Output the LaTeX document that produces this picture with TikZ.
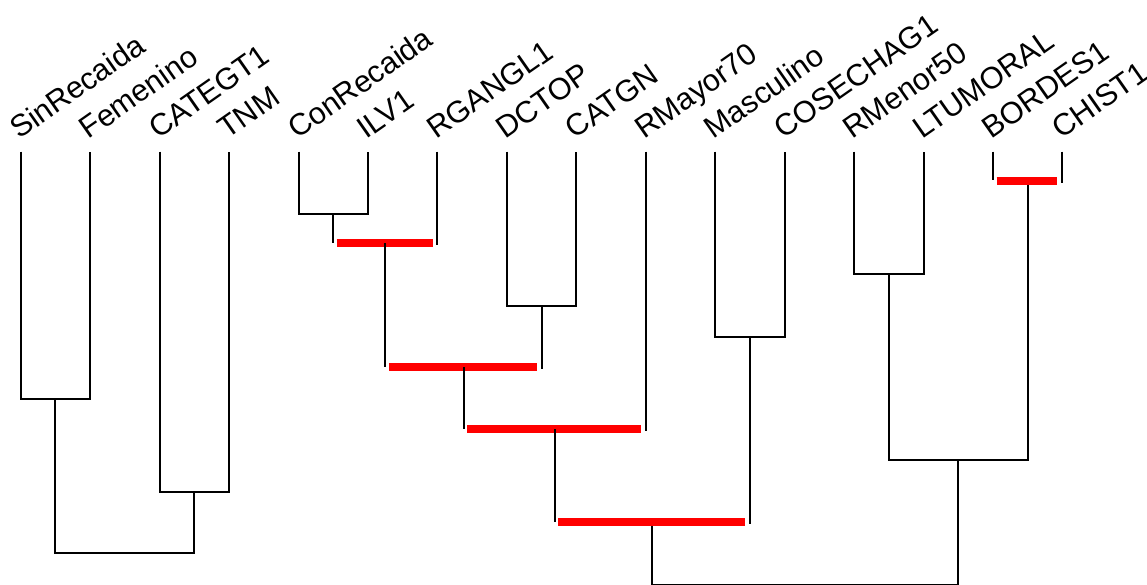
\documentclass[tikz,border=0pt]{standalone}
\usepackage{fontspec}
\setmainfont{Liberation Sans}
\usetikzlibrary{calc}
\definecolor{barred}{RGB}{255,0,0}
\tikzset{
  lab/.style={anchor=base west,rotate=35,inner sep=0pt,font=\fontsize{30.5}{32}\selectfont},
  tree/.style={draw=black,line width=2pt,line cap=butt},
  redbar/.style={draw=barred,line width=8pt,line cap=butt},
}
\begin{document}
\begin{tikzpicture}[x=1pt,y=-1pt]
\useasboundingbox (0,0) rectangle (1147,584);
% leaf tops
\foreach \n/\i in {l0/0,l1/1,l2/2,l3/3,l4/4,l5/5,l6/6,l7/7,l8/8,l9/9,l10/10,l11/11,l12/12,l13/13,l14/14,l15/15}
  \coordinate (\n) at ({20.7+69.45*\i},151.5);
% labels
\foreach \t/\i in {SinRecaida/0,Femenino/1,CATEGT1/2,TNM/3,ConRecaida/4,ILV1/5,RGANGL1/6,DCTOP/7,CATGN/8,RMayor70/9,Masculino/10,COSECHAG1/11,RMenor50/12,LTUMORAL/13,BORDES1/14,CHIST1/15}
  \node[lab] (t\i) at ({20.7+69.45*\i-1.5},140) {\t};
% merge points
\coordinate (m1) at (55.4,399);
\coordinate (m2) at (194.3,492);
\coordinate (m3) at (124.9,553);
\coordinate (m4) at (333.2,213.5);
\coordinate (m5) at (541.6,306);
\coordinate (m6) at (749.9,336.7);
\coordinate (m7) at (888.8,274.3);
\coordinate (r1) at (385.3,243);
\coordinate (r2) at (463.5,367);
\coordinate (r3) at (554.6,429);
\coordinate (r4) at (652.3,522);
\coordinate (r5) at (1027.7,181);
\coordinate (m8) at (958.3,460);
\coordinate (m9) at (805,585);
% black merges
\draw[tree] (l0) |- (m1) -| (l1);
\draw[tree] (l2) |- (m2) -| (l3);
\draw[tree] (m1) |- (m3) -| (m2);
\draw[tree] (l4) |- (m4) -| (l5);
\draw[tree] (l7) |- (m5) -| (l8);
\draw[tree] (l10) |- (m6) -| (l11);
\draw[tree] (l12) |- (m7) -| (l13);
\draw[tree] (m7) |- (m8) -| (r5);
\draw[tree] (r4) |- (m9) -| (m8);
% red merges
\draw[tree] (m4) -- (m4 |- r1);
\draw[tree] (l6) -- ($(l6 |- r1)+(0,2)$);
\draw[redbar] ($(m4 |- r1)+(3.5,0)$) -- ($(l6 |- r1)+(-4.5,0)$);
\draw[tree] (r1) -- (r1 |- r2);
\draw[tree] (m5) -- ($(m5 |- r2)+(0,1.5)$);
\draw[redbar] ($(r1 |- r2)+(3.5,0)$) -- ($(m5 |- r2)+(-4.5,0)$);
\draw[tree] (r2) -- (r2 |- r3);
\draw[tree] (l9) -- ($(l9 |- r3)+(0,1.5)$);
\draw[redbar] ($(r2 |- r3)+(3.5,0)$) -- ($(l9 |- r3)+(-4.5,0)$);
\draw[tree] (r3) -- (r3 |- r4);
\draw[tree] (m6) -- ($(m6 |- r4)+(0,1.5)$);
\draw[redbar] ($(r3 |- r4)+(3.5,0)$) -- ($(m6 |- r4)+(-4.5,0)$);
\draw[tree] (l14) -- ($(l14 |- r5)+(0,-1)$);
\draw[tree] (l15) -- ($(l15 |- r5)+(0,2)$);
\draw[redbar] ($(l14 |- r5)+(3.5,0)$) -- ($(l15 |- r5)+(-5,0)$);
\end{tikzpicture}
\end{document}
